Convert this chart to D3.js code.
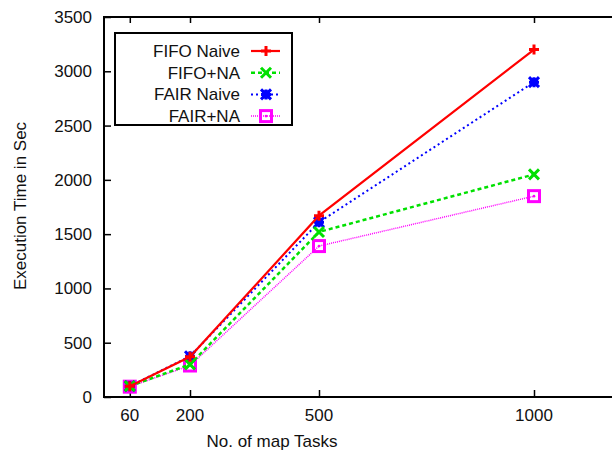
<!DOCTYPE html>
<html>
<head>
<meta charset="utf-8">
<script src="https://cdn.jsdelivr.net/npm/d3@7"></script>
<style>
  body { margin: 0; background: #fff; }
  text { font-family: "Liberation Sans", Arial, sans-serif; }
</style>
</head>
<body>
<div id="chart"></div>
<script>
// data
var mapTasks = [60, 200, 500, 1000];
var fifoNaive = [100, 370, 1670, 3200];
var fifoNA = [100, 300, 1520, 2050];
var fairNaive = [100, 375, 1610, 2900];
var fairNA = [95, 290, 1390, 1850];
var seriesNames = ["FIFO Naive", "FIFO+NA", "FAIR Naive", "FAIR+NA"];
var yTicks = [0, 500, 1000, 1500, 2000, 2500, 3000, 3500];

var w = 612, h = 454;
var pLeft = 104, pTop = 17, pBottom = 397, pRight = 620;
var fs = 17;

var svg = d3.select("#chart").append("svg")
    .attr("width", w).attr("height", h);

var x = d3.scaleLinear().domain([0, 1200]).range([pLeft, pRight]);
var y = d3.scaleLinear().domain([0, 3500]).range([pBottom, pTop]);

// frame
svg.append("rect")
    .attr("x", pLeft).attr("y", pTop)
    .attr("width", pRight - pLeft).attr("height", pBottom - pTop)
    .attr("fill", "none").attr("stroke", "#000").attr("stroke-width", 2);

// y axis ticks (inward)
var yAxis = svg.append("g").attr("transform", "translate(" + pLeft + ",0)")
    .call(d3.axisRight(y).tickValues(yTicks).tickSize(7).tickFormat(""));
yAxis.select(".domain").remove();
yAxis.selectAll("line").attr("stroke-width", 1.5);
svg.selectAll(".ylab").data(yTicks).enter().append("text")
    .attr("x", pLeft - 12).attr("y", function(d) { return y(d) + 6; })
    .attr("text-anchor", "end").attr("font-size", fs).attr("fill", "#111")
    .text(function(d) { return d; });

// x axis ticks, bottom and top (inward)
var xb = svg.append("g").attr("transform", "translate(0," + pBottom + ")")
    .call(d3.axisTop(x).tickValues(mapTasks).tickSize(7).tickFormat(""));
xb.select(".domain").remove();
xb.selectAll("line").attr("stroke-width", 1.5);
var xt = svg.append("g").attr("transform", "translate(0," + pTop + ")")
    .call(d3.axisBottom(x).tickValues(mapTasks).tickSize(6).tickFormat(""));
xt.select(".domain").remove();
xt.selectAll("line").attr("stroke-width", 1.5);
svg.selectAll(".xlab").data(mapTasks).enter().append("text")
    .attr("x", function(d) { return x(d); }).attr("y", pBottom + 24)
    .attr("text-anchor", "middle").attr("font-size", fs).attr("fill", "#111")
    .text(function(d) { return d; });

// axis titles
svg.append("text")
    .attr("x", 272).attr("y", 447)
    .attr("text-anchor", "middle").attr("font-size", fs).attr("fill", "#111")
    .text("No. of map Tasks");
svg.append("text")
    .attr("transform", "translate(26,206) rotate(-90)")
    .attr("text-anchor", "middle").attr("font-size", fs).attr("fill", "#111")
    .text("Execution Time in Sec");

var series = [
    { name: seriesNames[0], values: fifoNaive, color: "#ff0000", width: 2.2, dash: null, mark: "plus" },
    { name: seriesNames[1], values: fifoNA, color: "#00e000", width: 2.5, dash: "4,3", mark: "cross" },
    { name: seriesNames[2], values: fairNaive, color: "#0000ff", width: 2, dash: "2,3", mark: "star" },
    { name: seriesNames[3], values: fairNA, color: "#ff00ff", width: 1.5, dash: "1,1", mark: "square" }
];

var line = d3.line()
    .x(function(d) { return x(d[0]); })
    .y(function(d) { return y(d[1]); });

function drawMark(g, type, cx, cy, color) {
    var s = 5;
    if (type === "plus") {
        g.append("path").attr("d", "M" + (cx - s) + "," + cy + "H" + (cx + s) + "M" + cx + "," + (cy - s) + "V" + (cy + s))
            .attr("stroke", color).attr("stroke-width", 3).attr("fill", "none");
    } else if (type === "cross") {
        g.append("path").attr("d", "M" + (cx - s) + "," + (cy - s) + "L" + (cx + s) + "," + (cy + s) +
            "M" + (cx - s) + "," + (cy + s) + "L" + (cx + s) + "," + (cy - s))
            .attr("stroke", color).attr("stroke-width", 3).attr("fill", "none");
    } else if (type === "star") {
        g.append("path").attr("d", "M" + (cx - s) + "," + (cy - s) + "L" + (cx + s) + "," + (cy + s) +
            "M" + (cx - s) + "," + (cy + s) + "L" + (cx + s) + "," + (cy - s) +
            "M" + (cx - s) + "," + cy + "H" + (cx + s) + "M" + cx + "," + (cy - s) + "V" + (cy + s))
            .attr("stroke", color).attr("stroke-width", 3).attr("fill", "none");
        g.append("rect").attr("x", cx - 4).attr("y", cy - 4).attr("width", 8).attr("height", 8).attr("fill", color);
    } else if (type === "square") {
        g.append("rect").attr("x", cx - 5.5).attr("y", cy - 5.5).attr("width", 11).attr("height", 11)
            .attr("stroke", color).attr("stroke-width", 3).attr("fill", "none");
        g.append("circle").attr("cx", cx).attr("cy", cy).attr("r", 1.3).attr("fill", color);
    }
}

// lines and markers
series.slice().reverse().forEach(function(s) {
    var pts = mapTasks.map(function(t, i) { return [t, s.values[i]]; });
    svg.append("path").datum(pts)
        .attr("d", line)
        .attr("fill", "none")
        .attr("stroke", s.color)
        .attr("stroke-width", s.width)
        .attr("stroke-dasharray", s.dash);
    var g = svg.append("g");
    pts.forEach(function(p) { drawMark(g, s.mark, x(p[0]), y(p[1]), s.color); });
});

// legend
svg.append("rect")
    .attr("x", 115).attr("y", 33).attr("width", 177).attr("height", 92)
    .attr("fill", "#fff").attr("stroke", "#000").attr("stroke-width", 2);
series.forEach(function(s, i) {
    var ly = 51 + i * 21.7;
    svg.append("text")
        .attr("x", 240).attr("y", ly + 6)
        .attr("text-anchor", "end").attr("font-size", fs).attr("fill", "#111")
        .text(s.name);
    svg.append("path")
        .attr("d", "M251," + ly + "H280")
        .attr("stroke", s.color).attr("stroke-width", s.width)
        .attr("stroke-dasharray", s.dash).attr("fill", "none");
    var g = svg.append("g");
    drawMark(g, s.mark, 266, ly, s.color);
});
</script>
</body>
</html>
